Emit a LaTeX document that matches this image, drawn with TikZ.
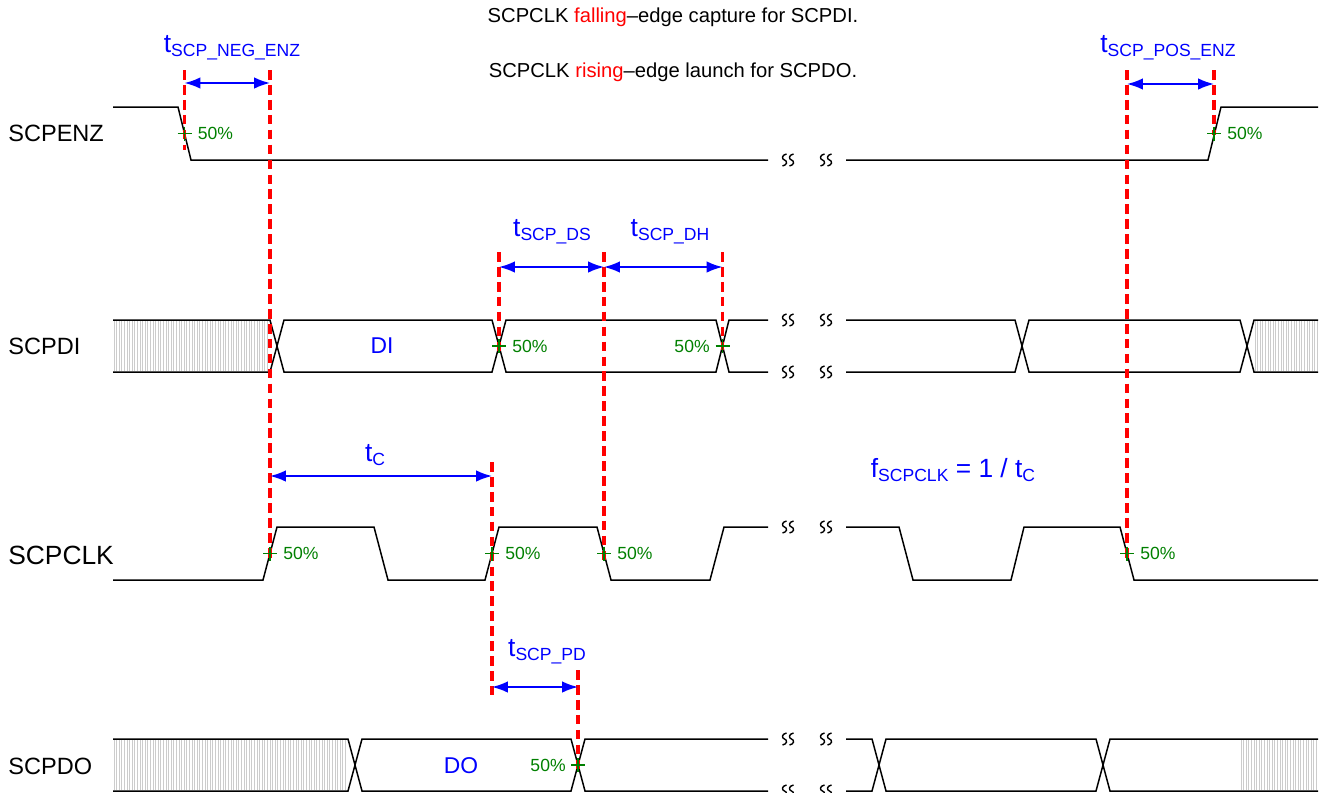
\documentclass[tikz,border=0pt]{standalone}
\usepackage{fontspec}
\setmainfont{Liberation Sans}
\usetikzlibrary{arrows.meta}
\newcommand{\tsub}[2]{{\fontsize{15}{18}\selectfont #1}\raisebox{-2.5pt}{\fontsize{10}{12}\selectfont #2}}

\begin{document}
\begin{tikzpicture}[x=0.02cm,y=-0.02cm,
  sig/.style={line width=0.85pt},
  guide/.style={red,line width=2pt,dash pattern=on 5.5pt off 3pt},
  meas/.style={blue,line width=1pt,{Latex[length=9pt,width=6.5pt]}-{Latex[length=9pt,width=6.5pt]}},
  mark50/.style={green!50!black,line width=0.8pt},
  pct/.style={text=green!50!black,font=\fontsize{10}{12}\selectfont,inner sep=0pt},
  signame/.style={anchor=west,inner sep=0pt,font=\fontsize{13.4}{16}\selectfont},
  lab/.style={blue,inner sep=0pt},
  hatch/.style={gray!40,line width=0.5pt},
  brk/.pic={\path[draw,line width=0.8pt] (-1.5,-6) .. controls (-6.5,-5) and (-6.5,-1) .. (-3.5,0) .. controls (-0.5,1) and (-0.5,5) .. (-5.5,6);
    \path[draw,line width=0.8pt] (5.5,-6) .. controls (0.5,-5) and (0.5,-1) .. (3.5,0) .. controls (6.5,1) and (6.5,5) .. (1.5,6);}]
\useasboundingbox (0,0) rectangle (1321,792);

\node[font=\fontsize{11.5}{13}\selectfont] (cap) at (673,17) {SCPCLK \textcolor{red}{falling}–edge capture for SCPDI.};
\node[font=\fontsize{11.5}{13}\selectfont] (launch) at (673,72) {SCPCLK \textcolor{red}{rising}–edge launch for SCPDO.};

\node[signame] (enz) at (8,133) {SCPENZ};
\node[signame] (di) at (8,346) {SCPDI};
\node[signame,font=\fontsize{15}{18}\selectfont] (clk) at (8,555) {SCPCLK};
\node[signame] (do) at (8,766) {SCPDO};

\foreach \x in {114,116.6,...,269} \path[draw,hatch] (\x,321) -- (\x,371);
\foreach \x in {1255,1257.6,...,1318} \path[draw,hatch] (\x,321) -- (\x,371);
\foreach \x in {114,116.6,...,347} \path[draw,hatch] (\x,740) -- (\x,790);
\foreach \x in {1241,1243.6,...,1318} \path[draw,hatch] (\x,740) -- (\x,790);

\path[draw,sig] (113,107) -- (178,107) -- (191,160) -- (768,160);
\path[draw,sig] (846,160) -- (1208,160) -- (1221,107) -- (1318,107);

\path[draw,sig] (113,320) -- (270,320) -- (284,372) -- (492,372) -- (506,320) -- (716,320) -- (729,372) -- (768,372);
\path[draw,sig] (113,372) -- (270,372) -- (284,320) -- (492,320) -- (506,372) -- (716,372) -- (729,320) -- (768,320);
\path[draw,sig] (846,320) -- (1015,320) -- (1029,372) -- (1240,372) -- (1254,320) -- (1318,320);
\path[draw,sig] (846,372) -- (1015,372) -- (1029,320) -- (1240,320) -- (1254,372) -- (1318,372);

\path[draw,sig] (113,580) -- (263,580) -- (277,527) -- (374,527) -- (388,580) -- (485,580) -- (499,527) -- (597,527) -- (611,580) -- (710,580) -- (724,527) -- (768,527);
\path[draw,sig] (846,527) -- (899,527) -- (913,580) -- (1011,580) -- (1024,527) -- (1120,527) -- (1134,580) -- (1318,580);

\path[draw,sig] (113,739) -- (348,739) -- (362,791) -- (571,791) -- (585,739) -- (768,739);
\path[draw,sig] (113,791) -- (348,791) -- (362,739) -- (571,739) -- (585,791) -- (768,791);
\path[draw,sig] (846,739) -- (872,739) -- (886,791) -- (1096,791) -- (1110,739) -- (1318,739);
\path[draw,sig] (846,791) -- (872,791) -- (886,739) -- (1096,739) -- (1110,791) -- (1318,791);

\foreach \y in {160,320,372,527,739,791} {
  \pic at (788,\y) {brk};
  \pic at (826,\y) {brk};
}

\node[lab,font=\fontsize{13}{16}\selectfont] (dival) at (382,346) {DI};
\node[lab,font=\fontsize{13}{16}\selectfont] (doval) at (461,766) {DO};

\foreach \x/\a/\b in {184.5/70/150, 270/70/560, 492/462/695, 499/252/352, 604/252/560, 722.5/252/350, 578/670/770, 1127/70/560, 1214/70/135}
  \path[draw,guide] (\x,\a) -- (\x,\b);

\foreach \x/\y in {184.5/133.5, 1214/133.5, 499/346, 722.5/346, 270/553.5, 492/553.5, 604/553.5, 1127/553.5, 578/765}
  \path[draw,mark50] ({\x-7},\y) -- ({\x+7},\y) (\x,{\y-7}) -- (\x,{\y+7});

\node[pct,anchor=west] (p1) at (197.5,133.5) {50\%};
\node[pct,anchor=west] (p2) at (1227,133.5) {50\%};
\node[pct,anchor=west] (p3) at (512,346) {50\%};
\node[pct,anchor=east] (p4) at (710,346) {50\%};
\node[pct,anchor=west] (p5) at (283,553.5) {50\%};
\node[pct,anchor=west] (p6) at (505,553.5) {50\%};
\node[pct,anchor=west] (p7) at (617,553.5) {50\%};
\node[pct,anchor=west] (p8) at (1140,553.5) {50\%};
\node[pct,anchor=east] (p9) at (566,765) {50\%};

\coordinate (neg1) at (184.5,83);
\coordinate (neg2) at (270,83);
\coordinate (pos1) at (1127,84);
\coordinate (pos2) at (1214,84);
\coordinate (ds1) at (499,267);
\coordinate (ds2) at (604,267);
\coordinate (dh2) at (722.5,267);
\coordinate (tc1) at (270,476);
\coordinate (tc2) at (492,476);
\coordinate (pd1) at (492,687);
\coordinate (pd2) at (578,687);
\path[draw,meas] (neg1) -- (neg2);
\path[draw,meas] (pos1) -- (pos2);
\path[draw,meas] (ds1) -- (ds2);
\path[draw,meas] (ds2) -- (dh2);
\path[draw,meas] (tc1) -- (tc2);
\path[draw,meas] (pd1) -- (pd2);

\node[lab] (tneg) at (232,48) {\tsub{t}{SCP\_NEG\_ENZ}};
\node[lab] (tpos) at (1168,48) {\tsub{t}{SCP\_POS\_ENZ}};
\node[lab] (tds) at (552,232) {\tsub{t}{SCP\_DS}};
\node[lab] (tdh) at (670,232) {\tsub{t}{SCP\_DH}};
\node[lab] (tc) at (375,455) {\tsub{t}{C}};
\node[lab] (tpd) at (547,652) {\tsub{t}{SCP\_PD}};
\node[lab] (fclk) at (953,470) {\tsub{f}{SCPCLK}{\fontsize{15}{18}\selectfont{} = 1 / }\tsub{t}{C}};
\end{tikzpicture}
\end{document}
